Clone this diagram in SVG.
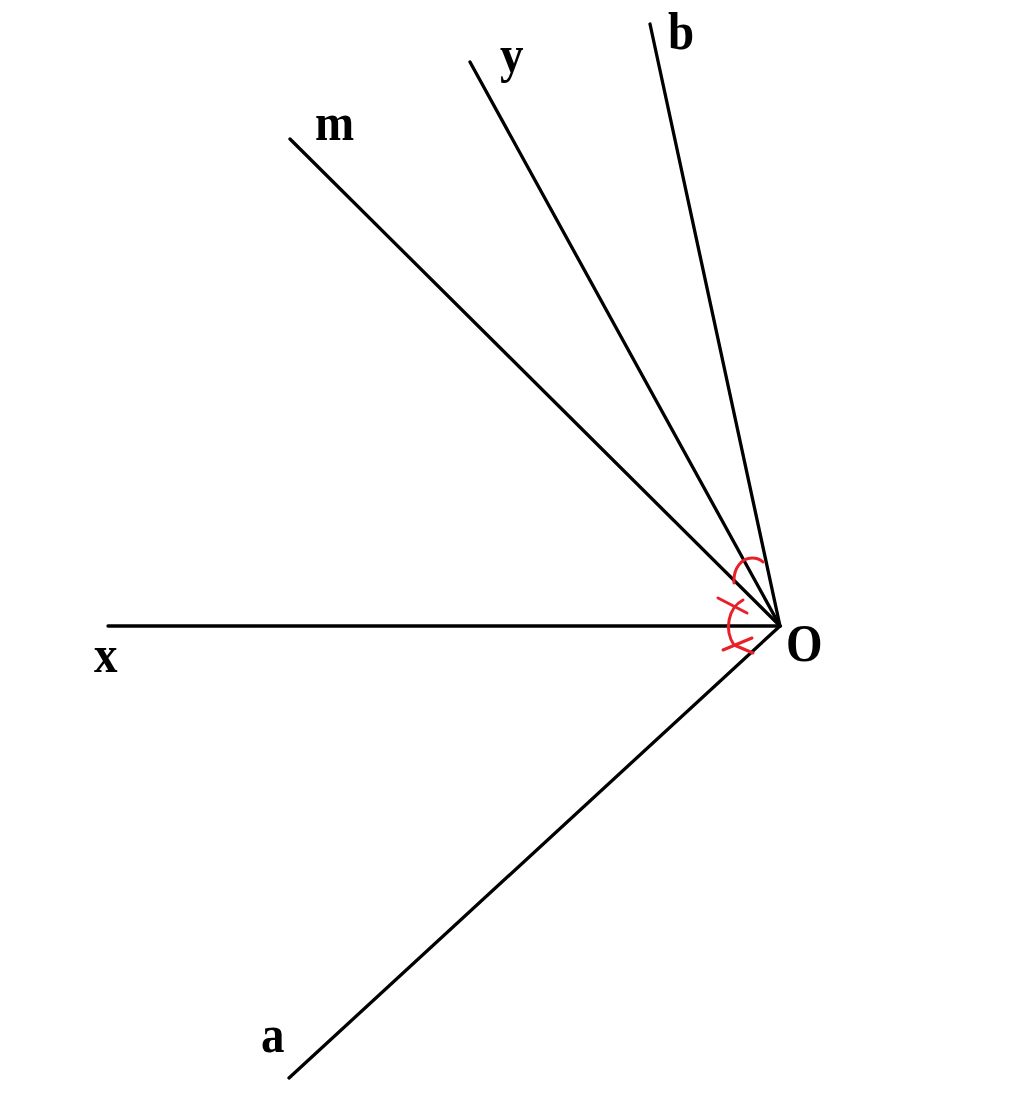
<svg xmlns="http://www.w3.org/2000/svg" width="1024" height="1095" viewBox="0 0 1024 1095">
<style>
.ray{stroke:#000;stroke-width:3.3;fill:none;stroke-linecap:round}
.mk{stroke:#e8202a;stroke-width:3;fill:none;stroke-linecap:round}
.lb{font-family:"Liberation Serif",serif;font-weight:bold;font-size:47px;fill:#000}
</style>
<rect width="1024" height="1095" fill="#fff"/>
<g id="connectors">
<line class="ray" x1="108" y1="626" x2="780" y2="626"/>
<line class="ray" x1="290" y1="139" x2="780" y2="626"/>
<line class="ray" x1="470" y1="62" x2="780" y2="626"/>
<line class="ray" x1="650" y1="24" x2="780" y2="626"/>
<line class="ray" x1="289" y1="1078" x2="780" y2="626"/>
</g>
<g id="marks">
<path class="mk" d="M734,583 C733,568 742,558 752,558 C757,558 761,560 763,562"/>
<path class="mk" d="M743,600 C728,608 724,630 734,645 L753,653"/>
<line class="mk" x1="718" y1="598" x2="747" y2="613"/>
<line class="mk" x1="723" y1="650" x2="752" y2="638"/>
</g>
<g id="label-m"><text class="lb" transform="translate(315,140) scale(1,1.13)">m</text></g>
<g id="label-y"><text class="lb" transform="translate(500,72) scale(1,1.13)">y</text></g>
<g id="label-b"><text class="lb" transform="translate(668,49) scale(1,1.13)">b</text></g>
<g id="label-x"><text class="lb" transform="translate(94,672) scale(1,1.13)">x</text></g>
<g id="label-O"><text class="lb" transform="translate(786,661) scale(1,1.13)">O</text></g>
<g id="label-a"><text class="lb" transform="translate(261,1052) scale(1,1.13)">a</text></g>
</svg>
